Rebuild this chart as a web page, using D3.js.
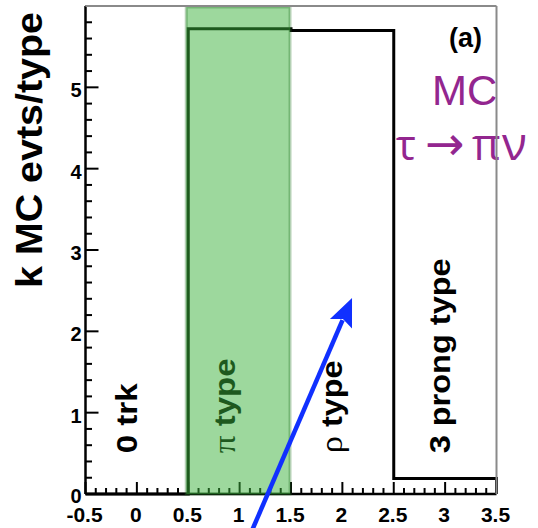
<!DOCTYPE html>
<html><head><meta charset="utf-8">
<script src="https://cdn.jsdelivr.net/npm/d3@7"></script>
<style>html,body{margin:0;padding:0;background:#fff;}</style>
</head><body>
<svg id="c" width="538" height="528"></svg>
<script>
// ---- data ----
const binEdges = [-0.5, 0.5, 1.5, 2.5, 3.5];
const binCounts = [0, 5.72, 5.70, 0.19];           // k MC events per type
const binLabels = ["0 trk", "π type", "ρ type", "3 prong type"];
const xTickValues = [-0.5, 0, 0.5, 1, 1.5, 2, 2.5, 3, 3.5];
const xTickLabels = ["-0.5", "0", "0.5", "1", "1.5", "2", "2.5", "3", "3.5"];
const yTickValues = [0, 1, 2, 3, 4, 5];
const yTickLabels = ["0", "1", "2", "3", "4", "5"];
const highlightBin = [0.5, 1.5];
const arrowFrom = [1.12, -0.45];
const arrowTo = [2.094, 2.41];

const svg = d3.select("#c");
const x = d3.scaleLinear().domain([-0.5, 3.5]).range([85.5, 496.5]);
const y = d3.scaleLinear().domain([0, 6]).range([494, 6]);
const FONT = "'Liberation Sans', Arial, Helvetica, sans-serif";

// histogram step line
const pts = [];
pts.push([binEdges[0], 0]);
binCounts.forEach((c, i) => { pts.push([binEdges[i], c]); pts.push([binEdges[i + 1], c]); });
pts.push([binEdges[binEdges.length - 1], 0]);
svg.append("path")
  .attr("d", d3.line().x(d => x(d[0])).y(d => y(d[1]))(pts))
  .attr("fill", "none").attr("stroke", "#000").attr("stroke-width", 3)
  .attr("stroke-linejoin", "miter");

// axes lines
svg.append("line").attr("x1", x(-0.5)).attr("x2", x(-0.5)).attr("y1", y(6)).attr("y2", y(0))
  .attr("stroke", "#000").attr("stroke-width", 2.5);
svg.append("line").attr("x1", x(-0.5)).attr("x2", x(3.5)).attr("y1", y(0)).attr("y2", y(0))
  .attr("stroke", "#000").attr("stroke-width", 2.5);

// y ticks (inside)
const yMinor = d3.range(0, 6.001, 0.2);
svg.selectAll(".ytk").data(yMinor).enter().append("line")
  .attr("x1", x(-0.5)).attr("x2", d => x(-0.5) + (Math.abs(d - Math.round(d)) < 1e-6 ? 13 : 6.5))
  .attr("y1", d => y(d)).attr("y2", d => y(d))
  .attr("stroke", "#000").attr("stroke-width", 2);
svg.selectAll(".ylab").data(yTickValues).enter().append("text")
  .attr("x", x(-0.5) - 4).attr("y", d => y(d) + (d === 0 ? 9 : 10))
  .attr("text-anchor", "end").attr("font-family", FONT).attr("font-weight", "bold")
  .attr("font-size", 20).text((d, i) => yTickLabels[i]);

// x ticks (inside)
const xMinor = d3.range(-0.5, 3.5001, 0.1);
svg.selectAll(".xtk").data(xMinor).enter().append("line")
  .attr("x1", d => x(d)).attr("x2", d => x(d))
  .attr("y1", y(0)).attr("y2", d => y(0) - (Math.abs(d * 2 - Math.round(d * 2)) < 1e-6 ? 12 : 6))
  .attr("stroke", "#000").attr("stroke-width", 2);
svg.selectAll(".xlab").data(xTickValues).enter().append("text")
  .attr("x", d => x(d) - 1).attr("y", 522)
  .attr("text-anchor", "middle").attr("font-family", FONT).attr("font-weight", "bold")
  .attr("font-size", 21).text((d, i) => xTickLabels[i]);

// y title
svg.append("text")
  .attr("transform", "translate(42,12) rotate(-90)")
  .attr("text-anchor", "end").attr("font-family", FONT).attr("font-weight", "bold")
  .attr("font-size", 36).attr("textLength", 276).attr("lengthAdjust", "spacingAndGlyphs")
  .text("k MC evts/type");

// bin labels (rotated)
const labelX = [0.0, 0.955, 2.0, 3.05];
const labelLen = [70, 95, 93, 195];
binLabels.forEach((lab, i) => {
  const t = svg.append("text")
    .attr("transform", `translate(${x(labelX[i])},${y(0.5)}) rotate(-90)`)
    .attr("font-family", FONT).attr("font-weight", "bold").attr("font-size", 30)
    .attr("textLength", labelLen[i]).attr("lengthAdjust", "spacingAndGlyphs");
  if (lab[0] === "π" || lab[0] === "ρ") {
    t.append("tspan").attr("font-family", "'Liberation Serif', 'DejaVu Serif', serif")
      .attr("font-weight", "normal").attr("font-size", 32).text(lab[0]);
    t.append("tspan").text(lab.slice(1));
  } else {
    t.text(lab);
  }
});

// (a)
svg.append("text").attr("x", 482).attr("y", 47).attr("text-anchor", "end")
  .attr("font-family", FONT).attr("font-weight", "bold").attr("font-size", 27).text("(a)");

// MC tau->pi nu
svg.append("text").attr("x", 432).attr("y", 105)
  .attr("font-family", FONT).attr("font-size", 42).attr("fill", "#93268f").text("MC");
const proc = svg.append("text").attr("y", 160)
  .attr("font-family", "'Open Sans', 'DejaVu Sans', sans-serif").attr("font-size", 42).attr("fill", "#93268f");
proc.append("tspan").attr("x", 396).text("τ");
proc.append("tspan").attr("x", 425).attr("font-family", "'DejaVu Sans', sans-serif").attr("font-size", 47).text("→");
proc.append("tspan").attr("x", 472).attr("font-size", 44).text("π");
proc.append("tspan").attr("x", 502).attr("font-size", 46).text("ν");

// highlighted pi band (semi-transparent, over everything)
svg.append("rect")
  .attr("x", x(highlightBin[0]) - 2).attr("y", y(6) + 1)
  .attr("width", x(highlightBin[1]) - x(highlightBin[0]) + 1).attr("height", y(0) - y(6) - 1)
  .attr("fill", "rgb(60,178,60)").attr("fill-opacity", 0.5)
  .attr("stroke", "rgb(40,120,40)").attr("stroke-opacity", 0.35).attr("stroke-width", 3);

// frame top/right
svg.append("line").attr("x1", x(-0.5)).attr("x2", x(3.5)).attr("y1", y(6)).attr("y2", y(6))
  .attr("stroke", "#8a8a8a").attr("stroke-width", 2);
svg.append("line").attr("x1", x(3.5)).attr("x2", x(3.5)).attr("y1", y(6)).attr("y2", y(0))
  .attr("stroke", "#8a8a8a").attr("stroke-width", 2);

// blue arrow
const ax0 = x(arrowFrom[0]), ay0 = y(arrowFrom[1]), ax1 = x(arrowTo[0]), ay1 = y(arrowTo[1]);
const len = Math.hypot(ax1 - ax0, ay1 - ay0);
const ux = (ax1 - ax0) / len, uy = (ay1 - ay0) / len;
const hl = 28, hw = 12;
const bx = ax1 - ux * hl, by = ay1 - uy * hl;
svg.append("line").attr("x1", ax0).attr("y1", ay0).attr("x2", bx + ux * 4).attr("y2", by + uy * 4)
  .attr("stroke", "#1030ff").attr("stroke-width", 4.5);
svg.append("path")
  .attr("d", `M${ax1},${ay1} L${bx - uy * hw},${by + ux * hw} L${bx + ux * 5},${by + uy * 5} L${bx + uy * hw},${by - ux * hw} Z`)
  .attr("fill", "#1030ff");
</script>
</body></html>
